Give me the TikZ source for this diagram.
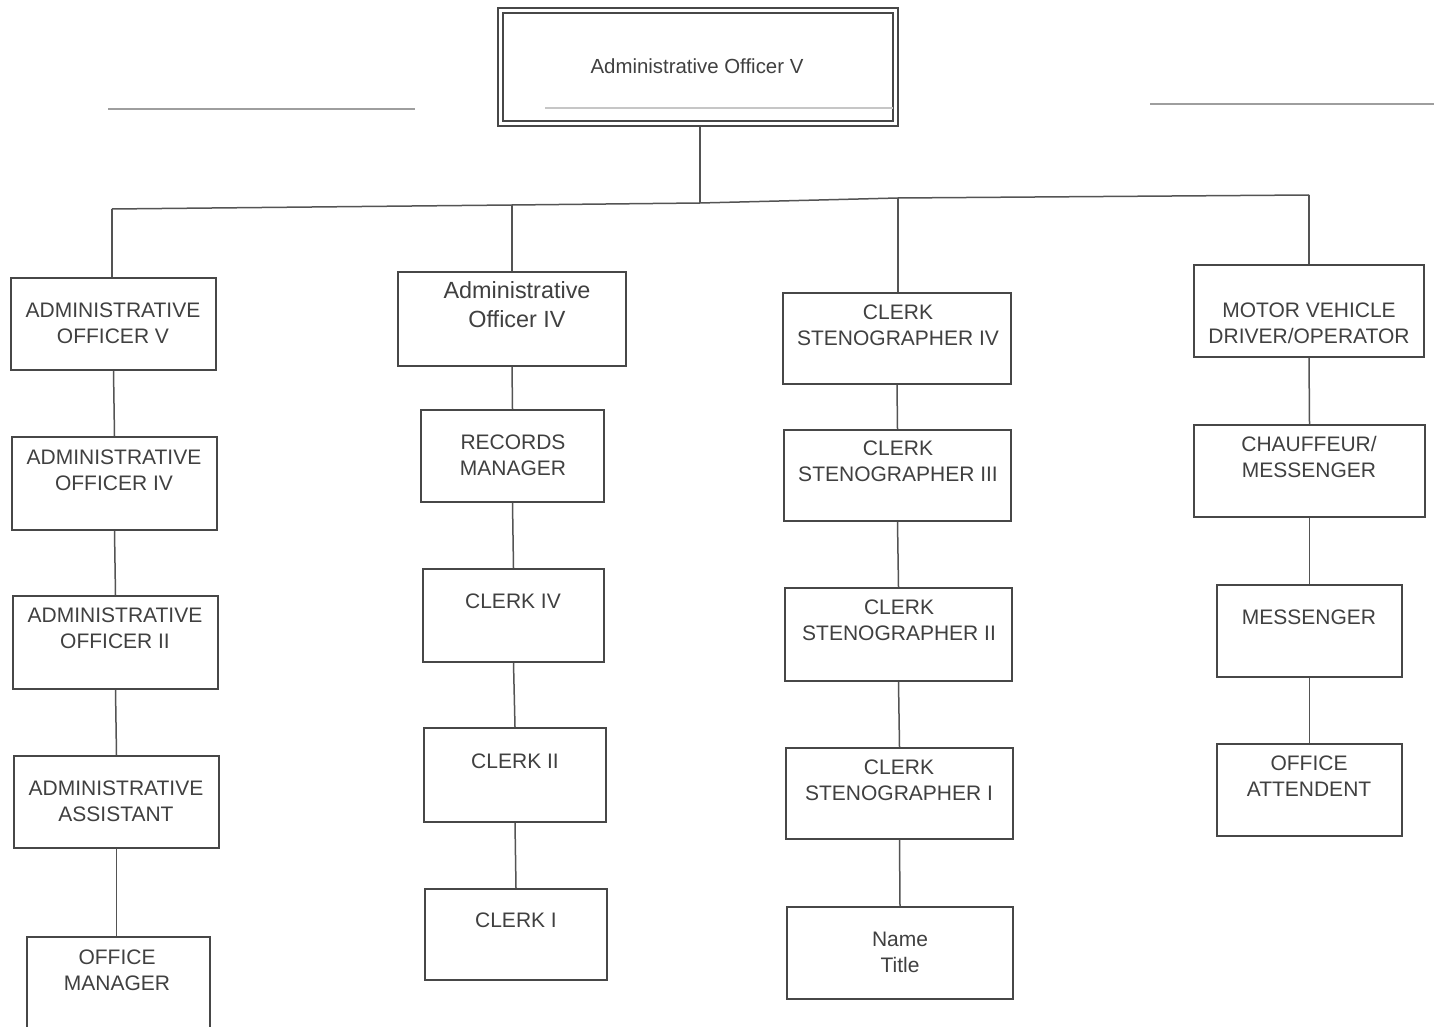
\documentclass[tikz,border=0pt]{standalone}
\usepackage{fontspec}
\setmainfont{Liberation Sans}
\usetikzlibrary{fit}
\definecolor{boxgray}{gray}{0.28}
\definecolor{linegray}{gray}{0.33}
\definecolor{txtgray}{gray}{0.25}
\definecolor{faintgray}{gray}{0.62}
\begin{document}
\begin{tikzpicture}[x=0.5pt,y=-0.5pt,
  box/.style={draw=boxgray, line width=1pt, inner sep=0pt},
  txt/.style={text=txtgray, font=\fontsize{10.5}{13}\selectfont, align=center, inner sep=0pt},
  bigtxt/.style={txt, font=\fontsize{11.7}{14.5}\selectfont},
  toptxt/.style={txt, font=\fontsize{10.2}{12}\selectfont},
  link/.style={draw=linegray, line width=0.75pt},
  rule/.style={draw=faintgray, line width=0.8pt}]
\useasboundingbox (0,0) rectangle (1434,1027);
\fill[white] (0,0) rectangle (1434,1027);

% faint rules beside the head box
\draw[rule] (108,109) -- (415,109);
\draw[rule] (1150,104) -- (1434,104);

% head box with double frame
\node[box, fit={(498,8) (898,126)}] (top) {};
\draw[boxgray, line width=0.8pt] (503,13) rectangle (893,121);
\draw[gray!45, line width=0.6pt] (545,108) -- (893,108);
\node[toptxt] at (697,66) {Administrative Officer V};

% column 1
\node[box, fit={(11,278) (216,370)}] (a1) {};
\node[txt] at (113,323) {ADMINISTRATIVE\\OFFICER V};
\node[box, fit={(12,437) (217,530)}] (a2) {};
\node[txt] at (114,470) {ADMINISTRATIVE\\OFFICER IV};
\node[box, fit={(13,596) (218,689)}] (a3) {};
\node[txt] at (115,628) {ADMINISTRATIVE\\OFFICER II};
\node[box, fit={(14,756) (219,848)}] (a4) {};
\node[txt] at (116,801) {ADMINISTRATIVE\\ASSISTANT};
\node[box, fit={(27,937) (210,1032)}] (a5) {};
\node[txt] at (117,970) {OFFICE\\MANAGER};

% column 2
\node[box, fit={(398,272) (626,366)}] (b1) {};
\node[bigtxt] at (517,305) {Administrative\\Officer IV};
\node[box, fit={(421,410) (604,502)}] (b2) {};
\node[txt] at (513,455) {RECORDS\\MANAGER};
\node[box, fit={(423,569) (604,662)}] (b3) {};
\node[txt] at (513,601) {CLERK IV};
\node[box, fit={(424,728) (606,822)}] (b4) {};
\node[txt] at (515,761) {CLERK II};
\node[box, fit={(425,889) (607,980)}] (b5) {};
\node[txt] at (516,920) {CLERK I};

% column 3
\node[box, fit={(783,293) (1011,384)}] (c1) {};
\node[txt] at (898,325) {CLERK\\STENOGRAPHER IV};
\node[box, fit={(784,430) (1011,521)}] (c2) {};
\node[txt] at (898,461) {CLERK\\STENOGRAPHER III};
\node[box, fit={(785,588) (1012,681)}] (c3) {};
\node[txt] at (899,620) {CLERK\\STENOGRAPHER II};
\node[box, fit={(786,748) (1013,839)}] (c4) {};
\node[txt] at (899,780) {CLERK\\STENOGRAPHER I};
\node[box, fit={(787,907) (1013,999)}] (c5) {};
\node[txt] at (900,952) {Name\\Title};

% column 4
\node[box, fit={(1194,265) (1424,357)}] (d1) {};
\node[txt] at (1309,323) {MOTOR VEHICLE\\DRIVER/OPERATOR};
\node[box, fit={(1194,425) (1425,517)}] (d2) {};
\node[txt] at (1309,457) {CHAUFFEUR/\\MESSENGER};
\node[box, fit={(1217,585) (1402,677)}] (d3) {};
\node[txt] at (1309,617) {MESSENGER};
\node[box, fit={(1217,744) (1402,836)}] (d4) {};
\node[txt] at (1309,776) {OFFICE\\ATTENDENT};

% bus under the head box
\coordinate (j1) at (112,209);
\coordinate (j2) at (512,205);
\coordinate (j0) at (700,203);
\coordinate (j3) at (898,198);
\coordinate (j4) at (1309,195);
\draw[link] (j1) -- (j2) -- (j0) -- (j3) -- (j4);
\draw[link] (top.south -| j0) -- (j0);
\draw[link] (j1) -- (j1 |- a1.north);
\draw[link] (j2) -- (j2 |- b1.north);
\draw[link] (j3) -- (j3 |- c1.north);
\draw[link] (j4) -- (j4 |- d1.north);

% chains within each column
\draw[link] (a1.south) -- (a2.north);
\draw[link] (a2.south) -- (a3.north);
\draw[link] (a3.south) -- (a4.north);
\draw[link] (a4.south) -- (a4.south |- a5.north);
\draw[link] (b1.south) -- (b2.north);
\draw[link] (b2.south) -- (b3.north);
\draw[link] (b3.south) -- (b4.north);
\draw[link] (b4.south) -- (b5.north);
\draw[link] (c1.south) -- (c2.north);
\draw[link] (c2.south) -- (c3.north);
\draw[link] (c3.south) -- (c4.north);
\draw[link] (c4.south) -- (c5.north);
\draw[link] (d1.south) -- (d2.north);
\draw[link] (d2.south) -- (d3.north);
\draw[link] (d3.south) -- (d4.north);
\end{tikzpicture}
\end{document}
